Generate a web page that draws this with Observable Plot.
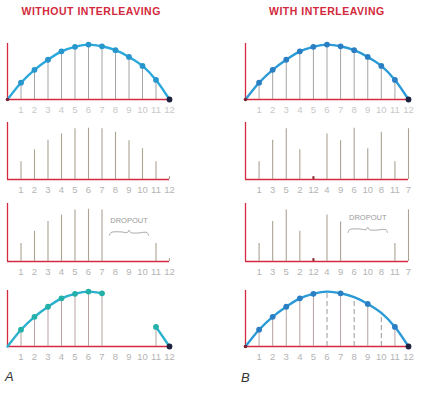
<!DOCTYPE html>
<html>
<head>
<meta charset="utf-8">
<script src="https://cdn.jsdelivr.net/npm/d3@7"></script>
<script src="https://cdn.jsdelivr.net/npm/@observablehq/plot@0.6"></script>
<style>
  html, body { margin: 0; padding: 0; background: #fff; }
  #root { position: relative; width: 427px; height: 394px; background: #fff; overflow: hidden; }
  .title { position: absolute; top: 5px; font: bold 10.5px "Liberation Sans", Arial, sans-serif; letter-spacing: 0.5px; color: #d22a3c; white-space: nowrap; }
  .letter { position: absolute; font: italic 13px "Liberation Sans", Arial, sans-serif; color: #333; }
  .panel { position: absolute; }
  .panel svg { overflow: visible; }
</style>
</head>
<body>
<div id="root"></div>
<script>
// ---- data ----
const samples = [0, 1, 2, 3, 4, 5, 6, 7, 8, 9, 10, 11, 12];
const curveValues = [0, 0.30, 0.53, 0.71, 0.86, 0.94, 0.98, 0.95, 0.88, 0.76, 0.60, 0.35, 0];
const pulseValues = [0, 0.31, 0.52, 0.69, 0.80, 0.89, 0.90, 0.89, 0.83, 0.68, 0.54, 0.31, 0.05];
const interleavedOrder = [1, 3, 5, 2, 12, 4, 9, 6, 10, 8, 11, 7];
const dropoutSlots = [8, 9, 10];
const titles = ["WITHOUT INTERLEAVING", "WITH INTERLEAVING"];
const panelLetters = ["A", "B"];
const dropoutLabel = "DROPOUT";

// ---- styles ----
const RED = "#d42a40";
const STEM = "#aba293";
const LABEL = "#b4b4b4";
const FONT = "Liberation Sans, Arial, sans-serif";

const root = document.getElementById("root");

// panel geometry (page pixels)
const cols = [
  {left: 0, width: 190, mLeft: 7, mRight: 21},
  {left: 213, width: 214, mLeft: 32, mRight: 19}
];
const rows = [
  {axisTop: 43, baseline: 99},
  {axisTop: 122, baseline: 179},
  {axisTop: 203, baseline: 261},
  {axisTop: 290, baseline: 346}
];

function addPanel(ci, ri, marks) {
  const c = cols[ci], r = rows[ri];
  const svgTop = r.axisTop - 8;
  const height = r.baseline + 16 - svgTop;
  const plot = Plot.plot({
    width: c.width,
    height,
    marginLeft: c.mLeft,
    marginRight: c.mRight,
    marginTop: r.axisTop - svgTop,
    marginBottom: height - (r.baseline - svgTop),
    x: {domain: [0, 12], axis: null},
    y: {domain: [0, 1], axis: null},
    style: {background: "transparent", overflow: "visible", fontFamily: FONT},
    marks
  });
  const div = document.createElement("div");
  div.className = "panel";
  div.style.left = c.left + "px";
  div.style.top = svgTop + "px";
  div.style.width = c.width + "px";
  div.appendChild(plot);
  root.appendChild(div);
}

// axes common to every panel
function axes() {
  return [
    Plot.ruleX([0], {y1: 0, y2: 1, stroke: RED, strokeWidth: 1.3}),
    Plot.ruleY([0], {x1: 0, x2: 12, stroke: RED, strokeWidth: 1.6})
  ];
}
function labels(data, color) {
  return Plot.text(data, {x: "slot", y: 0, text: "label", dy: 10, fill: color || LABEL, fontSize: 9.5, fontFamily: FONT});
}
function brace(slots, yv) {
  const a = d3.min(slots) - 0.45, b = d3.max(slots) + 0.45, w = b - a;
  const shape = [[0, -0.05], [0.04, 0], [0.3, 0.01], [0.46, 0], [0.5, 0.04], [0.54, 0], [0.7, -0.01], [0.96, 0], [1, -0.05]];
  return Plot.line(shape.map(([t, dy]) => ({x: a + t * w, y: yv + dy})), {x: "x", y: "y", curve: "catmull-rom", stroke: "#a0a0a0", strokeWidth: 0.9});
}

// ---- derived tables ----
const curveData = samples.map(s => ({slot: s, sample: s, v: curveValues[s]}));
const inner = curveData.filter(d => d.sample > 0 && d.sample < 12);
const seqLabels = samples.filter(s => s > 0).map(s => ({slot: s, label: String(s)}));

// channel A: slot = sample; channel B: slot holds interleavedOrder sample
const chanA = samples.filter(s => s > 0).map(s => ({slot: s, sample: s, v: pulseValues[s]}));
const chanB = interleavedOrder.map((s, i) => ({slot: i + 1, sample: s, v: pulseValues[s]}));
const chanBLabels = chanB.map(d => ({slot: d.slot, label: String(d.sample)}));

const lostA = chanA.filter(d => dropoutSlots.includes(d.slot)).map(d => d.sample);
const lostB = chanB.filter(d => dropoutSlots.includes(d.slot)).map(d => d.sample);

// ---- column colours ----
const colCurve = ["#2aa8dc", "#2b9ad6"];
const colDot = ["#2796cc", "#2a7fc4"];
const END = "#1d2340";

// ---- row 1: original waveform ----
[0, 1].forEach(ci => {
  addPanel(ci, 0, [
    ...axes(),
    Plot.ruleX(inner, {x: "slot", y1: 0, y2: "v", stroke: "#9a9a9a", strokeWidth: 0.9}),
    Plot.line(curveData, {x: "slot", y: "v", curve: "catmull-rom", stroke: colCurve[ci], strokeWidth: 2.4}),
    Plot.dot(inner, {x: "slot", y: "v", r: 2.9, fill: colDot[ci]}),
    Plot.dot(curveData.filter(d => d.sample === 12), {x: "slot", y: "v", r: 2.9, fill: END}),
    Plot.dot(curveData.filter(d => d.sample === 0), {x: "slot", y: "v", r: 1.8, fill: "#7a2030"}),
    labels(seqLabels, "#c8c8c8")
  ]);
});

// ---- row 2: recorded pulses ----
addPanel(0, 1, [
  ...axes(),
  Plot.ruleX(chanA, {x: "slot", y1: 0, y2: "v", stroke: STEM, strokeWidth: 1.1}),
  labels(seqLabels)
]);
addPanel(1, 1, [
  ...axes(),
  Plot.ruleX(chanB, {x: "slot", y1: 0, y2: "v", stroke: d => d.sample === 12 ? "#8a2a30" : STEM, strokeWidth: d => d.sample === 12 ? 2 : 1.1}),
  labels(chanBLabels)
]);

// ---- row 3: pulses with dropout ----
addPanel(0, 2, [
  ...axes(),
  Plot.ruleX(chanA.filter(d => !dropoutSlots.includes(d.slot)), {x: "slot", y1: 0, y2: "v", stroke: STEM, strokeWidth: 1.1}),
  Plot.text([dropoutLabel], {x: d3.mean(dropoutSlots), y: 0.71, text: d => d, fill: "#9a9a9a", fontSize: 7.5, fontFamily: FONT}),
  brace(dropoutSlots, 0.50),
  labels(seqLabels)
]);
addPanel(1, 2, [
  ...axes(),
  Plot.ruleX(chanB.filter(d => !dropoutSlots.includes(d.slot)), {x: "slot", y1: 0, y2: "v", stroke: d => d.sample === 12 ? "#8a2a30" : STEM, strokeWidth: d => d.sample === 12 ? 2 : 1.1}),
  Plot.text([dropoutLabel], {x: d3.mean(dropoutSlots), y: 0.76, text: d => d, fill: "#9a9a9a", fontSize: 7.5, fontFamily: FONT}),
  brace(dropoutSlots, 0.55),
  labels(chanBLabels)
]);

// ---- row 4: reconstructed waveform ----
// A: gap where samples were lost
let seg = 0;
const recA = [];
samples.forEach(s => {
  if (lostA.includes(s)) { seg++; return; }
  recA.push({slot: s, sample: s, v: curveValues[s], seg});
});
const recAInner = recA.filter(d => d.sample > 0 && d.sample < 12);
addPanel(0, 3, [
  ...axes(),
  Plot.ruleX(recAInner, {x: "slot", y1: 0, y2: "v", stroke: "#b8a2a2", strokeWidth: 1}),
  Plot.line(recA, {x: "slot", y: "v", z: "seg", curve: "catmull-rom", stroke: "#2ab0cc", strokeWidth: 2.4}),
  Plot.dot(recAInner, {x: "slot", y: "v", r: 2.9, fill: "#22b0a8"}),
  Plot.dot(recA.filter(d => d.sample === 12), {x: "slot", y: "v", r: 2.9, fill: END}),
  labels(seqLabels)
]);

// B: lost samples interpolated (dashed)
const recBInner = inner.map(d => ({...d, lost: lostB.includes(d.sample)}));
addPanel(1, 3, [
  ...axes(),
  Plot.ruleX(recBInner.filter(d => !d.lost), {x: "slot", y1: 0, y2: "v", stroke: "#b8a2a2", strokeWidth: 1}),
  Plot.ruleX(recBInner.filter(d => d.lost), {x: "slot", y1: 0, y2: "v", stroke: "#9a9a9a", strokeWidth: 1, strokeDasharray: "5,3"}),
  Plot.line(curveData, {x: "slot", y: "v", curve: "catmull-rom", stroke: colCurve[1], strokeWidth: 2.4}),
  Plot.dot(recBInner.filter(d => !d.lost), {x: "slot", y: "v", r: 2.9, fill: colDot[1]}),
  Plot.dot(curveData.filter(d => d.sample === 12), {x: "slot", y: "v", r: 2.9, fill: END}),
  Plot.dot(curveData.filter(d => d.sample === 0), {x: "slot", y: "v", r: 1.8, fill: "#7a2030"}),
  labels(seqLabels)
]);

// ---- titles and letters ----
const titleCenters = [91, 327];
titles.forEach((t, i) => {
  const d = document.createElement("div");
  d.className = "title";
  d.textContent = t;
  root.appendChild(d);
  d.style.left = (titleCenters[i] - d.offsetWidth / 2) + "px";
});
const letterPos = [{left: 5, top: 369}, {left: 241, top: 370}];
panelLetters.forEach((t, i) => {
  const d = document.createElement("div");
  d.className = "letter";
  d.textContent = t;
  d.style.left = letterPos[i].left + "px";
  d.style.top = letterPos[i].top + "px";
  root.appendChild(d);
});
</script>
</body>
</html>
